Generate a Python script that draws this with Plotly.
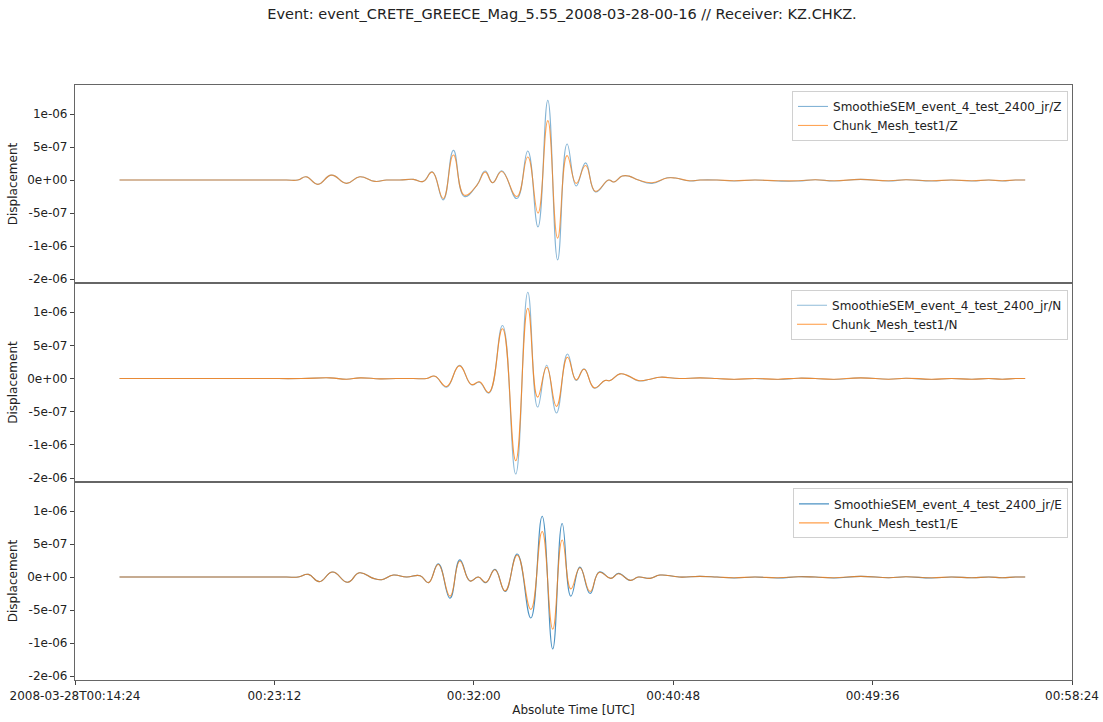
import pandas as pd
import plotly.graph_objects as go
from plotly.subplots import make_subplots

BASE = pd.Timestamp("2008-03-28 00:14:24")

# ---- data (seconds after 00:14:24, displacement in units of 1e-6 m) ----
z_t = [118, 200, 300, 400, 500, 560, 590, 612, 643, 679, 719, 754, 794, 825, 860, 896, 922, 946,
       975, 1002, 1031, 1064, 1086, 1106, 1130, 1170, 1199, 1226, 1252, 1278, 1303, 1327, 1352,
       1378, 1413, 1427, 1449, 1467, 1492, 1528, 1568, 1590, 1628, 1655, 1700, 1745, 1800, 1862,
       1915, 1960, 2010, 2080, 2155, 2200, 2268, 2320, 2375, 2420, 2455, 2490, 2516]
z_smoothie = [0, 0, 0, 0, 0, 0, 0, 0.05, -0.065, 0.075, -0.05, 0.05, -0.02, 0.0, 0.0, 0.01, -0.02,
              0.126, -0.30, 0.45, -0.25, -0.08, 0.136, -0.04, 0.14, -0.28, 0.44, -0.71, 1.21, -1.21,
              0.545, -0.09, 0.26, -0.18, 0.0, -0.03, 0.06, 0.06, 0.0, -0.05, 0.035, 0.03, -0.015,
              0.0, 0.0, -0.015, 0.0, -0.015, -0.015, 0.005, -0.015, 0.01, -0.015, 0.005, -0.015,
              0.0, -0.015, 0.0, -0.015, 0.0, 0.0]
z_chunk = [0, 0, 0, 0, 0, 0, 0, 0.05, -0.065, 0.075, -0.05, 0.05, -0.02, 0.0, 0.0, 0.01, -0.02,
           0.12, -0.28, 0.38, -0.23, -0.08, 0.12, -0.04, 0.13, -0.25, 0.35, -0.50, 0.90, -0.88,
           0.37, -0.05, 0.22, -0.17, 0.0, -0.03, 0.06, 0.06, 0.0, -0.04, 0.03, 0.03, -0.01,
           0.0, 0.0, -0.01, 0.0, -0.01, -0.01, 0.005, -0.01, 0.01, -0.01, 0.005, -0.01,
           0.0, -0.01, 0.0, -0.01, 0.0, 0.0]

n_t = [118, 200, 300, 400, 500, 600, 675, 719, 755, 808, 850, 896, 931, 953, 984, 1018, 1050, 1071,
       1096, 1132, 1167, 1199, 1225, 1249, 1275, 1304, 1327, 1348, 1375, 1403, 1417, 1443, 1465,
       1492, 1523, 1549, 1600, 1655, 1700, 1745, 1800, 1862, 1915, 1960, 2010, 2080, 2155, 2200,
       2268, 2320, 2375, 2420, 2455, 2490, 2516]
n_smoothie = [0, 0, 0, 0, 0, 0, 0.01, -0.01, 0.01, -0.005, 0.0, 0.0, 0.0, 0.035, -0.13, 0.20,
              -0.095, -0.056, -0.22, 0.80, -1.44, 1.30, -0.43, 0.20, -0.52, 0.37, -0.03, 0.146,
              -0.146, -0.03, -0.03, 0.07, 0.04, -0.035, -0.01, 0.02, 0.0, 0.01, 0.0, -0.015, 0.0,
              -0.015, 0.005, 0.0, -0.015, 0.01, -0.01, 0.005, -0.015, 0.0, -0.01, 0.0, -0.01, 0.0,
              0.0]
n_chunk = [0, 0, 0, 0, 0, 0, 0.01, -0.01, 0.01, -0.005, 0.0, 0.0, 0.0, 0.035, -0.12, 0.19,
           -0.09, -0.05, -0.21, 0.75, -1.24, 1.06, -0.28, 0.17, -0.42, 0.32, -0.02, 0.14,
           -0.14, -0.03, -0.03, 0.07, 0.04, -0.03, -0.01, 0.02, 0.0, 0.01, 0.0, -0.01, 0.0,
           -0.01, 0.005, 0.0, -0.01, 0.01, -0.01, 0.005, -0.01, 0.0, -0.01, 0.0, -0.01, 0.0,
           0.0]

e_t = [118, 200, 300, 400, 500, 560, 591, 618, 647, 682, 722, 753, 790, 812, 843, 878, 914, 936, 962,
       993, 1019, 1046, 1068, 1088, 1112, 1139, 1171, 1207, 1237, 1265, 1290, 1313, 1337, 1364,
       1388, 1419, 1439, 1470, 1492, 1523, 1549, 1600, 1655, 1700, 1745, 1800, 1862, 1915, 1960,
       2010, 2080, 2155, 2200, 2268, 2320, 2375, 2420, 2455, 2490, 2516]
e_smoothie = [0, 0, 0, 0, 0, 0, 0, 0.04, -0.07, 0.076, -0.08, 0.065, -0.02, -0.04, 0.03, 0.0, 0.02,
              -0.085, 0.20, -0.32, 0.26, -0.06, 0.0, -0.085, 0.116, -0.22, 0.35, -0.62, 0.92, -1.09,
              0.81, -0.29, 0.15, -0.25, 0.076, -0.02, 0.055, -0.05, 0.0, -0.02, 0.03, 0.0, 0.01,
              0.0, -0.015, 0.0, -0.015, 0.005, 0.0, -0.015, 0.01, -0.01, 0.005, -0.015, 0.0, -0.01,
              0.0, -0.01, 0.0, 0.0]
e_chunk = [0, 0, 0, 0, 0, 0, 0, 0.04, -0.07, 0.076, -0.08, 0.065, -0.02, -0.04, 0.03, 0.0, 0.02,
           -0.085, 0.19, -0.29, 0.24, -0.06, 0.0, -0.08, 0.11, -0.21, 0.33, -0.49, 0.69, -0.79,
           0.56, -0.18, 0.14, -0.22, 0.07, -0.02, 0.05, -0.05, 0.0, -0.02, 0.03, 0.0, 0.01,
           0.0, -0.01, 0.0, -0.01, 0.005, 0.0, -0.01, 0.01, -0.01, 0.005, -0.01, 0.0, -0.01,
           0.0, -0.01, 0.0, 0.0]

components = ["Z", "N", "E"]
panels = [(z_t, z_smoothie, z_chunk), (n_t, n_smoothie, n_chunk), (e_t, e_smoothie, e_chunk)]

x_tick_sec = [0, 528, 1056, 1584, 2112, 2640]
x_tick_text = ["2008-03-28T00:14:24", "00:23:12", "00:32:00", "00:40:48", "00:49:36", "00:58:24"]
y_tick_vals = [-1.5e-06, -1e-06, -5e-07, 0, 5e-07, 1e-06]
y_tick_text = ["-2e-06", "-1e-06", "-5e-07", "0e+00", "5e-07", "1e-06"]

BLUE = "#1f77b4"
ORANGE = "#ff7f0e"
FONT = "DejaVu Sans"


def to_time(secs):
    return [BASE + pd.Timedelta(seconds=s) for s in secs]


fig = make_subplots(rows=3, cols=1, shared_xaxes=True, vertical_spacing=0)

legend_names = ["legend", "legend2", "legend3"]
legend_y = [0.990, 0.656, 0.322]
blue_op = [0.55, 0.5, 0.8]
orange_op = [0.7, 0.8, 0.75]

for i, (comp, (tt, s_vals, c_vals)) in enumerate(zip(components, panels)):
    times = to_time(tt)
    fig.add_trace(go.Scatter(
        x=times, y=[v * 1e-6 for v in s_vals], mode="lines",
        line=dict(color=BLUE, width=1.1, shape="spline", smoothing=1.3),
        opacity=blue_op[i],
        name=f"SmoothieSEM_event_4_test_2400_jr/{comp}", legend=legend_names[i],
    ), row=i + 1, col=1)
    fig.add_trace(go.Scatter(
        x=times, y=[v * 1e-6 for v in c_vals], mode="lines",
        line=dict(color=ORANGE, width=1.1, shape="spline", smoothing=1.3),
        opacity=orange_op[i],
        name=f"Chunk_Mesh_test1/{comp}", legend=legend_names[i],
    ), row=i + 1, col=1)

domains = [[0.6672, 1.0], [0.3328, 0.6672], [0.0, 0.3328]]
axis_line = "#666666"
for i in range(3):
    yname = "yaxis" if i == 0 else f"yaxis{i + 1}"
    xname = "xaxis" if i == 0 else f"xaxis{i + 1}"
    fig.layout[yname].update(
        domain=domains[i], range=[-1.56e-06, 1.44e-06],
        tickvals=y_tick_vals, ticktext=y_tick_text,
        ticks="outside", ticklen=4, tickcolor="#444", tickwidth=1,
        showline=True, linecolor=axis_line, linewidth=1.2, mirror=True,
        showgrid=False, zeroline=False, automargin=False,
        tickfont=dict(family=FONT, size=12, color="#222"),
        title=dict(text="Displacement", font=dict(family=FONT, size=12, color="#222"), standoff=6),
    )
    fig.layout[xname].update(
        type="date",
        range=[BASE, BASE + pd.Timedelta(seconds=2640)],
        showline=True, linecolor=axis_line, linewidth=1.2, mirror=True,
        showgrid=False, zeroline=False, automargin=False,
    )
    if i < 2:
        fig.layout[xname].update(showticklabels=False, ticks="")
    else:
        fig.layout[xname].update(
            tickvals=to_time(x_tick_sec), ticktext=x_tick_text,
            ticks="outside", ticklen=4, tickcolor="#444",
            tickfont=dict(family=FONT, size=12, color="#222"),
            title=dict(text="Absolute Time [UTC]", font=dict(family=FONT, size=12, color="#222"),
                       standoff=4),
        )

legend_style = dict(
    x=0.996, xanchor="right", yanchor="top",
    bgcolor="rgba(255,255,255,0.9)", bordercolor="#d0d0d0", borderwidth=1,
    font=dict(family=FONT, size=12, color="#222"),
    tracegroupgap=0, itemwidth=30,
)
fig.update_layout(
    legend=dict(y=legend_y[0], **legend_style),
    legend2=dict(y=legend_y[1], **legend_style),
    legend3=dict(y=legend_y[2], **legend_style),
)

fig.update_layout(
    width=1103, height=722,
    margin=dict(l=75, r=31, t=85, b=42),
    paper_bgcolor="white", plot_bgcolor="white",
    title=dict(
        text="Event: event_CRETE_GREECE_Mag_5.55_2008-03-28-00-16 // Receiver: KZ.CHKZ.",
        x=0.5095, xref="container", xanchor="center",
        y=1 - 14 / 722, yref="container", yanchor="middle",
        font=dict(family=FONT, size=14.5, color="#222"),
    ),
    showlegend=True,
)

fig.write_html("out.html")
